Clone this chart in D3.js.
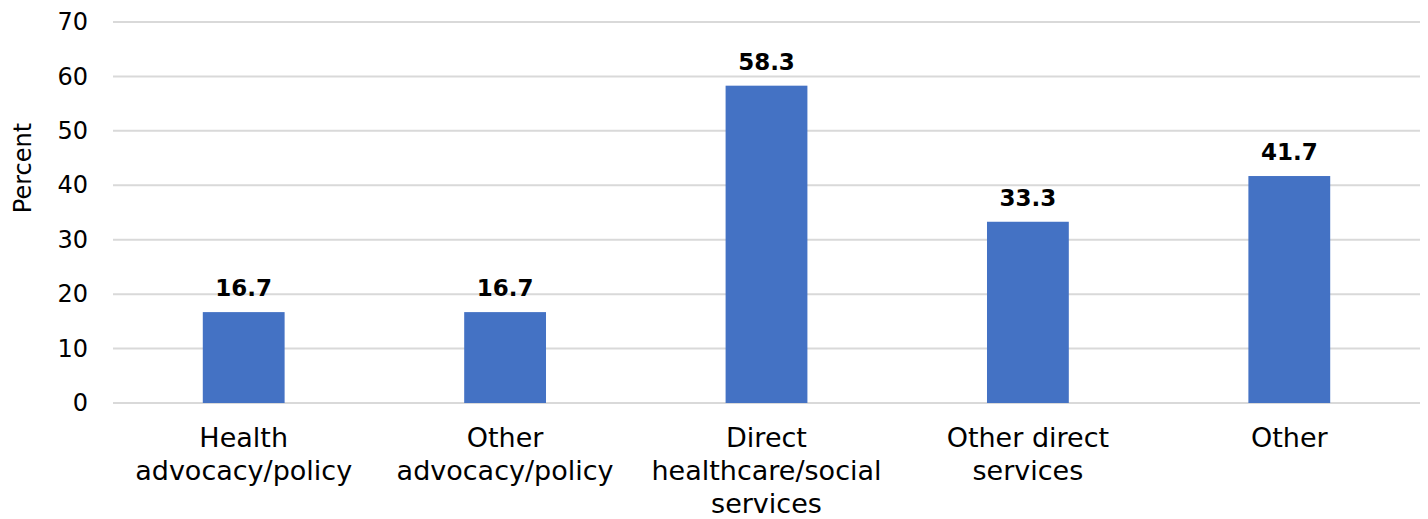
<!DOCTYPE html>
<html><head><meta charset="utf-8">
<script src="https://cdn.jsdelivr.net/npm/d3@7"></script>
<style>body{margin:0;background:#fff}svg{display:block}text{font-family:"DejaVu Sans",sans-serif}</style>
</head><body><svg id="c" width="1428" height="519"></svg>
<script>
const categories = [["Health","advocacy/policy"],["Other","advocacy/policy"],["Direct","healthcare/social","services"],["Other direct","services"],["Other"]];
const values = [16.7, 16.7, 58.3, 33.3, 41.7];
const yTicks = [0,10,20,30,40,50,60,70];

(function(){
const svg = d3.select("#c");
const mL = 113, mR = 1420, mT = 22, mB = 403;
const x = d3.scaleBand().domain(d3.range(values.length)).range([mL, mR]).paddingInner(0.687).paddingOuter(0.3435);
const y = d3.scaleLinear().domain([0,70]).range([mB, mT]);

const g = svg.append("g");
g.selectAll("line.grid").data(yTicks).join("line")
  .attr("x1", mL).attr("x2", mR)
  .attr("y1", d=>y(d)).attr("y2", d=>y(d))
  .attr("stroke", "#d9d9d9").attr("stroke-width", 2);

const yAxis = d3.axisLeft(y).tickValues(yTicks).tickSize(0).tickPadding(0);
const ya = svg.append("g").attr("transform", `translate(88,0)`).call(yAxis);
ya.select(".domain").remove();
ya.selectAll("text").attr("font-size", 24).attr("fill", "#000").attr("font-family", "DejaVu Sans");

g.selectAll("rect").data(values).join("rect")
  .attr("x", (d,i)=>x(i)).attr("width", x.bandwidth())
  .attr("y", d=>y(d)).attr("height", d=>y(0)-y(d))
  .attr("fill", "#4472c4");

g.selectAll("text.lbl").data(values).join("text")
  .attr("class","lbl")
  .attr("x", (d,i)=>x(i)+x.bandwidth()/2).attr("y", d=>y(d)-16)
  .attr("text-anchor","middle").attr("font-size", 23).attr("font-weight","bold")
  .text(d=>d.toFixed(1));

categories.forEach((lines,i)=>{
  const t = svg.append("text").attr("text-anchor","middle").attr("font-size",27)
    .attr("x", x(i)+x.bandwidth()/2).attr("y", 447);
  lines.forEach((l,j)=>t.append("tspan").attr("x", x(i)+x.bandwidth()/2).attr("y", 447+j*33).text(l));
});

svg.append("text").attr("transform","translate(31,168) rotate(-90)")
  .attr("text-anchor","middle").attr("font-size",24).text("Percent");
})();
</script></body></html>
